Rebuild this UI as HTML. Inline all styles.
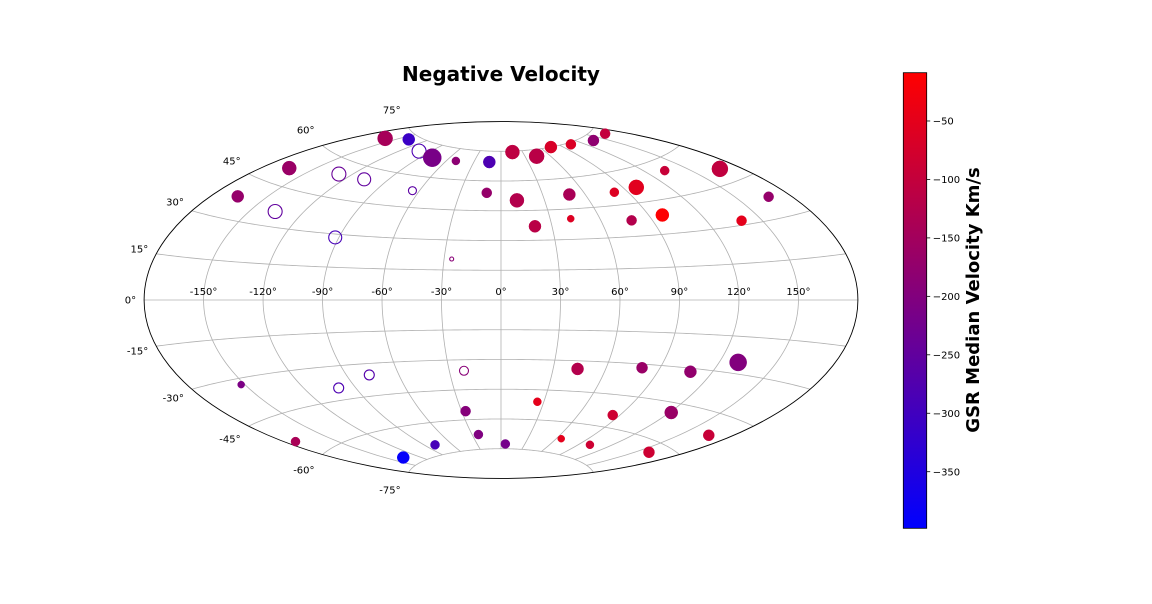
<!DOCTYPE html>
<html><head><meta charset="utf-8">
<style>
html,body{margin:0;padding:0;background:#fff;}
svg{display:block;font-family:"DejaVu Sans","Liberation Sans",sans-serif;}
</style></head>
<body>
<svg id="chart" width="1152" height="604" viewBox="0 0 1152 604" xmlns="http://www.w3.org/2000/svg">
<rect width="1152" height="604" fill="#fff"/>
<defs>
<linearGradient id="cbgrad" x1="0" y1="1" x2="0" y2="0">
<stop offset="0" stop-color="#0000ff"/><stop offset="1" stop-color="#ff0000"/>
</linearGradient>
</defs>
<text x="501" y="81" text-anchor="middle" font-size="20" font-weight="bold" fill="#000">Negative Velocity</text>
<g id="grid"></g>
<g id="points"></g>
<g id="labels"></g>
<g id="cbar"></g>
</svg>
<script>
// data (galactic longitude/latitude in degrees, velocity km/s, marker size, hollow flag)
const lons = [-166,-165,-160,-140,-102,-78,-50,-13,-10.5,-129,-107,-65,-136,-92,-26,
  16,44,75,105,137,166,11,49,20,42.5,81,99,134,168,78,98,139,168,
  -152,-100,-77,-21.5,44,80,108,130,-27,25.5,85,121,-174,-23.5,5.5,-79,-136,65,101,159,167];
const lats = [38,51,70,73,70.5,69,69,69.5,54,54.5,54.8,53,36,28.5,20.5,
  74.5,71.7,75,74.2,72.7,72.5,50.2,52,37,40.2,51,51.7,55.5,50,37.5,38.5,31.7,37.5,
  -32.3,-39.7,-35.3,-35.5,-34,-31.7,-31.5,-25.5,-55.7,-51,-54.3,-49,-54,-67.6,-72.6,-70.3,-71.5,-68,-68.3,-63.7,-52.3];
const velocities = [-170,-165,-145,-310,-280,-215,-185,-280,-170,-240,-250,-260,-250,-290,-190,
  -110,-115,-70,-65,-180,-100,-125,-140,-115,-60,-60,-55,-95,-105,-125,-12,-50,-170,
  -210,-280,-270,-190,-125,-165,-175,-200,-195,-50,-85,-165,-140,-205,-220,-290,-390,-50,-85,-85,-95];
const sizes = [6,7,7.5,6,7,9,4,6,5,7,6.5,4,7,6.5,2,
  7,7.5,6,5,5.5,5,7,6,6,3.5,4.5,7.5,4.5,8,5,6.5,5,5,
  3.5,5,5,4.5,6,5.5,6,8.5,5,4,5,6.5,4.5,4.5,4.5,4.5,6,3.5,4,5.5,5.5];
const hollow = [0,0,0,0,1,0,0,0,0,1,1,1,1,1,1,
  0,0,0,0,0,0,0,0,0,0,0,0,0,0,0,0,0,0,
  0,1,1,1,0,0,0,0,0,0,0,0,0,0,0,0,0,0,0,0,0];
const lonTicks = [-150,-120,-90,-60,-30,0,30,60,90,120,150];
const latTicks = [-75,-60,-45,-30,-15,0,15,30,45,60,75];
const cbTicks = [-50,-100,-150,-200,-250,-300,-350];
const vmin = -398.4, vmax = -8.7;

const NS='http://www.w3.org/2000/svg';
const CX=501, CY=300, S=356.9/Math.PI;
function proj(lonDeg, latDeg){
  const l=lonDeg*Math.PI/180, p=latDeg*Math.PI/180;
  const ca=Math.cos(p)*Math.cos(l/2);
  const a=Math.acos(Math.max(-1,Math.min(1,ca)));
  const sinc = a<1e-9 ? 1 : Math.sin(a)/a;
  const X=2*Math.cos(p)*Math.sin(l/2)/sinc;
  const Y=Math.sin(p)/sinc;
  return [CX+S*X, CY-S*Y];
}
function color(v){
  let t=(v-vmin)/(vmax-vmin); t=Math.max(0,Math.min(1,t));
  return 'rgb('+Math.round(255*t)+',0,'+Math.round(255*(1-t))+')';
}
function mk(tag, attrs, parent){
  const e=document.createElementNS(NS,tag);
  for(const k in attrs) e.setAttribute(k,attrs[k]);
  parent.appendChild(e); return e;
}
const grid=document.getElementById('grid');
latTicks.forEach(lat=>{
  if(lat===0){
    const e=mk('line',{x1:CX-356.9,y1:CY,x2:CX+356.9,y2:CY,stroke:'#b0b0b0','stroke-width':0.8},grid);
    
    
    return;
  }
  let d='';
  for(let lo=-180; lo<=180; lo+=2){const q=proj(lo,lat); d+=(lo===-180?'M':'L')+q[0].toFixed(2)+','+q[1].toFixed(2);}
  const e=mk('path',{d:d,fill:'none',stroke:'#b0b0b0','stroke-width':0.8},grid);
  
  
});
lonTicks.forEach(lon=>{
  let d='';
  for(let la=-75; la<=75; la+=1.5){const q=proj(lon,la); d+=(la===-75?'M':'L')+q[0].toFixed(2)+','+q[1].toFixed(2);}
  const e=mk('path',{d:d,fill:'none',stroke:'#b0b0b0','stroke-width':0.8},grid);
  
  
});
const border=mk('ellipse',{cx:CX,cy:CY,rx:356.9,ry:178.45,fill:'none',stroke:'#000','stroke-width':0.9},grid);



const pts=document.getElementById('points');
lons.forEach((lo,i)=>{
  const q=proj(lo,lats[i]);
  const c=color(velocities[i]);
  const e=mk('circle',{cx:q[0].toFixed(2),cy:q[1].toFixed(2),r:sizes[i],
    fill:hollow[i]?'none':c, stroke:c,'stroke-width':hollow[i]?1.1:0.5},pts);
  
  
});

const lab=document.getElementById('labels');
lonTicks.forEach(lon=>{
  const q=proj(lon,0);
  const t=mk('text',{x:q[0],y:295,'text-anchor':'middle','font-size':10,fill:'#000'},lab);
  t.textContent=lon+'°';
  
  
});
latTicks.forEach(lat=>{
  const q=proj(-180,lat);
  const off=Math.sin(Math.abs(lat)*Math.PI/180)*18;
  const t=mk('text',{x:q[0]-8,y:q[1]+(lat>=0?-off:off)+3.5,'text-anchor':'end','font-size':10,fill:'#000'},lab);
  t.textContent=lat+'°';
  
  
});

const cb=document.getElementById('cbar');
const cbx=903.3, cbw=23.4, cbTop=72.7, cbBot=528.3;
const r1=mk('rect',{x:cbx,y:cbTop,width:cbw,height:cbBot-cbTop,fill:'url(#cbgrad)',stroke:'#000','stroke-width':0.8},cb);


function cbY(v){return cbBot-(v-vmin)/(vmax-vmin)*(cbBot-cbTop);}
cbTicks.forEach(v=>{
  const y=cbY(v);
  const l=mk('line',{x1:cbx+cbw,y1:y,x2:cbx+cbw+3.5,y2:y,stroke:'#000','stroke-width':0.8},cb);
  
  
  const t=mk('text',{x:cbx+cbw+6,y:y+3.6,'font-size':10,fill:'#000'},cb);
  t.textContent='\u2212'+Math.abs(v);
  
  
});
const ct=mk('text',{x:0,y:0,transform:'translate(979,300) rotate(-90)','text-anchor':'middle','font-size':18,'font-weight':'bold',fill:'#000'},cb);
ct.textContent='GSR Median Velocity Km/s';


</script>
</body></html>
